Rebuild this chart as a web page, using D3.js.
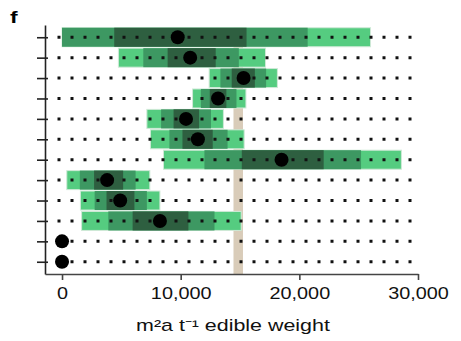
<!DOCTYPE html>
<html>
<head>
<meta charset="utf-8">
<script src="https://cdn.jsdelivr.net/npm/d3@7"></script>
<style>
  body { margin: 0; background: #fff; }
  svg { display: block; font-family: "Liberation Sans", Arial, sans-serif; }
</style>
</head>
<body>
<div id="chart"></div>
<script>
// rows top -> bottom (no row labels in the figure)
const rows = ["1", "2", "3", "4", "5", "6", "7", "8", "9", "10", "11", "12"];

// nested ranges: outer (light), middle (medium), inner (dark); null = no bar
const outerLo = [0, 4750, 12400, 11000, 7150, 7450, 8550, 400, 1550, 1650, null, null];
const outerHi = [26000, 17150, 18150, 15500, 13600, 15350, 28600, 7400, 8250, 15100, null, null];
const midLo   = [0, 6850, 13350, 11700, 8350, 9050, 12000, 1500, 2750, 3900, null, null];
const midHi   = [20700, 14900, 17200, 14700, 12550, 13950, 25200, 6200, 7150, 12850, null, null];
const innerLo = [4400, 8900, 14300, 12450, 9400, 10150, 15150, 2700, 3750, 5950, null, null];
const innerHi = [15550, 12950, 16250, 13850, 11550, 12700, 22050, 5150, 6100, 10650, null, null];
const central = [9750, 10800, 15300, 13150, 10450, 11450, 18500, 3800, 4900, 8250, 0, 0];

// reference band
const refLo = 14450;
const refHi = 15250;

const xTicks = [0, 10000, 20000, 30000];

const width = 461, height = 341;
const colors = { outer: "#55cc80", mid: "#3d9862", inner: "#2e5f40" };

const svg = d3.select("#chart").append("svg")
  .attr("width", width)
  .attr("height", height);

const x = d3.scaleLinear()
  .domain([-1435, 30000])
  .range([45, 418]);

const y = d3.scalePoint()
  .domain(rows)
  .range([25, 274])
  .padding(0.6);

const barH = 19;

// panel letter
svg.append("text")
  .attr("transform", "translate(10,23) scale(1.35,1)")
  .style("font", "bold 17px 'Liberation Sans', Arial, sans-serif")
  .text("f");

// reference band
svg.append("rect")
  .attr("x", x(refLo))
  .attr("width", x(refHi) - x(refLo))
  .attr("y", y(rows[0]) - barH / 2)
  .attr("height", 274 - (y(rows[0]) - barH / 2))
  .attr("fill", "#d9ccb9");

const data = rows.map((r, i) => ({
  row: r,
  outer: [outerLo[i], outerHi[i]],
  mid: [midLo[i], midHi[i]],
  inner: [innerLo[i], innerHi[i]],
  c: central[i]
}));

const g = svg.append("g");

["outer", "mid", "inner"].forEach(k => {
  g.selectAll("rect." + k)
    .data(data.filter(d => d[k][0] !== null))
    .enter().append("rect")
      .attr("class", k)
      .attr("x", d => x(d[k][0]))
      .attr("width", d => x(d[k][1]) - x(d[k][0]))
      .attr("y", d => y(d.row) - barH / 2)
      .attr("height", barH)
      .attr("fill", colors[k])
      .attr("stroke", k === "outer" ? "#cfe9d7" : "none")
      .attr("stroke-width", k === "outer" ? 1 : 0);
});

// dotted guide rows
svg.append("g")
  .selectAll("line")
  .data(rows)
  .enter().append("line")
    .attr("x1", 57.5)
    .attr("x2", 412)
    .attr("y1", d => y(d))
    .attr("y2", d => y(d))
    .attr("stroke", "#111")
    .attr("stroke-width", 3)
    .attr("stroke-dasharray", "3 10");

// central points
svg.append("g")
  .selectAll("circle")
  .data(data)
  .enter().append("circle")
    .attr("cx", d => x(d.c))
    .attr("cy", d => y(d.row))
    .attr("r", 7)
    .attr("fill", "#000");

// y axis
svg.append("g")
  .attr("transform", "translate(45,0)")
  .call(d3.axisLeft(y).tickSizeInner(8).tickSizeOuter(0).tickFormat(""))
  .call(g => g.select(".domain").attr("stroke", "#222").attr("stroke-width", 1.6))
  .call(g => g.selectAll(".tick line").attr("x2", 3).attr("x1", -8)
    .attr("stroke", "#222").attr("stroke-width", 1.6));

// x axis
svg.append("g")
  .attr("transform", "translate(0,274)")
  .call(d3.axisBottom(x).tickValues(xTicks).tickSizeInner(6).tickSizeOuter(0)
    .tickFormat(d3.format(",")))
  .call(g => g.select(".domain").attr("stroke", "#444").attr("stroke-width", 1.6))
  .call(g => g.selectAll(".tick line").attr("stroke", "#444").attr("stroke-width", 1.6))
  .call(g => g.selectAll(".tick text")
    .attr("y", 14)
    .attr("transform", "scale(1.24,1)")
    .attr("fill", "#111")
    .style("font-size", "16px")
    .style("font-family", "'Liberation Sans', Arial, sans-serif"));

// x axis title
svg.append("text")
  .attr("transform", "translate(233,331) scale(1.34,1)")
  .attr("text-anchor", "middle")
  .style("font-size", "16px")
  .attr("fill", "#111")
  .text("m²a t⁻¹ edible weight");
</script>
</body>
</html>
